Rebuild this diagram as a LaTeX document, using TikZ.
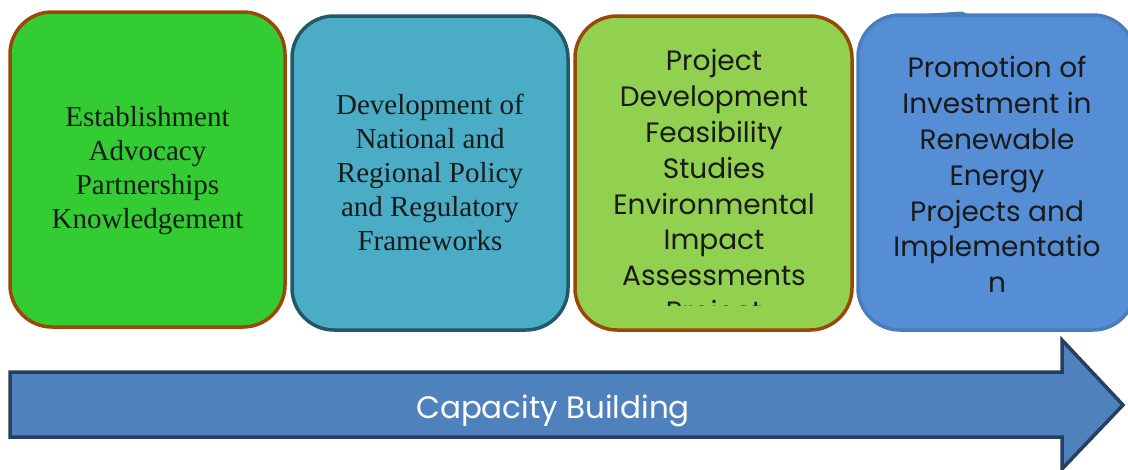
\documentclass[tikz,border=0pt]{standalone}
\usepackage{fontspec}
\setmainfont{Liberation Serif}
\newfontfamily\gothic{Poppins}
\begin{document}
\begin{tikzpicture}[x=1pt,y=-1pt]
\definecolor{brownedge}{HTML}{984807}
\definecolor{greenA}{HTML}{33CC33}
\definecolor{tealA}{HTML}{4BACC6}
\definecolor{tealedge}{HTML}{215968}
\definecolor{greenB}{HTML}{92D050}
\definecolor{blueA}{HTML}{558ED5}
\definecolor{blueedge}{HTML}{4A7EBB}
\definecolor{arrowfill}{HTML}{4F81BD}
\definecolor{arrowedge}{HTML}{243F60}
\definecolor{ink}{HTML}{1A1A1A}
\tikzset{
  stage/.style={draw, line width=3.5pt, rounded corners=42pt, inner sep=0pt},
  serifText/.style={text=ink, align=center, font=\fontsize{29}{34}\selectfont},
  sansText/.style={text=ink, align=center, font=\gothic\fontsize{28}{35.8}\selectfont},
}
\useasboundingbox (0,0) rectangle (1128,469);

% four stages
\path[stage, draw=brownedge, fill=greenA] (10,12) rectangle (285,327);
\node[serifText] (t1) at (147.5,171) {Establishment\\Advocacy\\Partnerships\\Knowledgement};

\path[stage, draw=tealedge, fill=tealA] (292,16) rectangle (568,330);
\node[serifText] (t2) at (430,172) {Development of\\National and\\Regional Policy\\and Regulatory\\Frameworks};

\path[stage, draw=brownedge, fill=greenB] (575,16) rectangle (852,330);
\begin{scope}
  \clip (575,0) rectangle (852,305);
  \node[sansText, anchor=north] (t3) at (714,46) {Project\\Development\\Feasibility\\Studies\\Environmental\\Impact\\Assessments\\Project};
\end{scope}

\path[stage, draw=blueedge, fill=blueA] (858,15) rectangle (1135,330);
% small raised lip on the top edge
\fill[blueedge] (900,15.5) -- (962,11.5) -- (970,15.5) -- cycle;
\node[sansText, anchor=north] (t4) at (997,53) {Promotion of\\Investment in\\Renewable\\Energy\\Projects and\\Implementatio\\n};

% capacity building arrow
\draw[line width=3.5pt, draw=arrowedge, fill=arrowfill, line join=miter]
  (10,372) -- (1062,372) -- (1062,340) -- (1123,405) -- (1062,469) -- (1062,437) -- (10,437) -- cycle;
\node[text=white, font=\gothic\fontsize{31}{34}\selectfont, anchor=base] (cap) at (553,418) {Capacity Building};
\end{tikzpicture}
\end{document}
